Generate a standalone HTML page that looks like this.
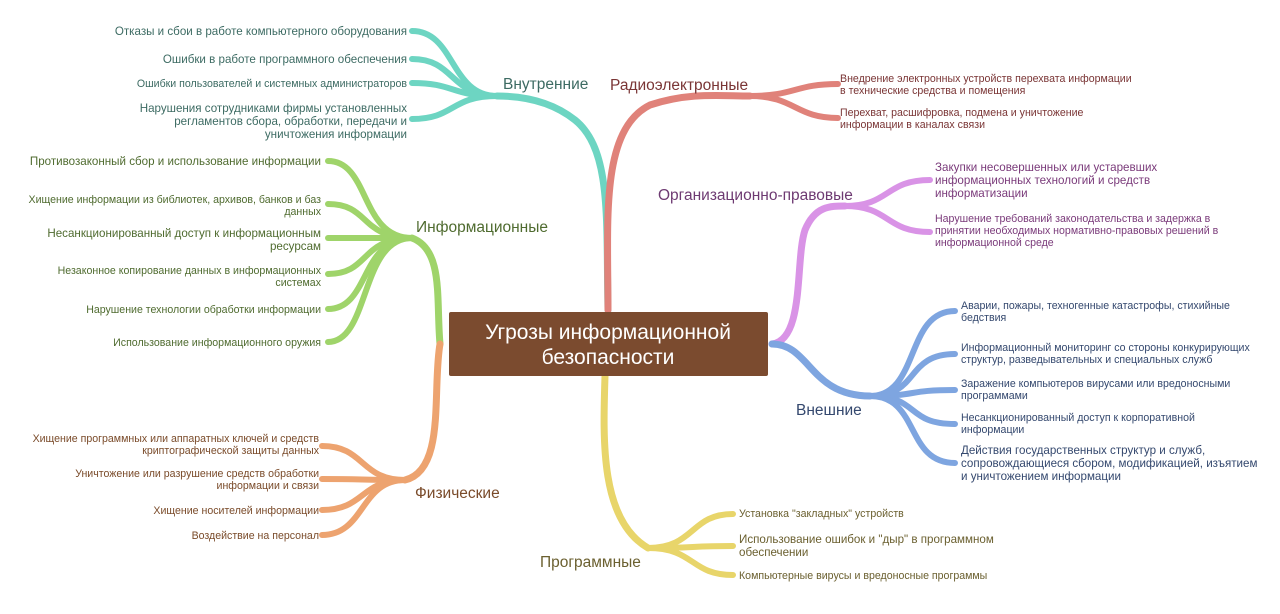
<!DOCTYPE html>
<html><head><meta charset="utf-8"><style>
body{margin:0;background:#fff;width:1280px;height:609px;overflow:hidden}
svg text{font-family:"Liberation Sans","Noto Sans CJK SC",sans-serif}
</style></head><body>
<svg width="1280" height="609" viewBox="0 0 1280 609" xmlns="http://www.w3.org/2000/svg" fill="none" stroke-linecap="round">
<path d="M608 310 C606 220 612 150 575 120 C550 100 520 96 497 96" stroke="#6dd5c2" stroke-width="7"/>
<path d="M608 310 C608 220 600 130 650 105 C690 92 720 96 750 96" stroke="#e0827a" stroke-width="7"/>
<path d="M440 344 C436 300 444 250 412 238" stroke="#9fd46a" stroke-width="7"/>
<path d="M440 344 C432 390 446 470 405 480" stroke="#eda36f" stroke-width="7"/>
<path d="M605 376 C603 440 600 520 648 548" stroke="#e8d56a" stroke-width="7"/>
<path d="M772 344 C805 340 795 260 805 230 C815 206 830 206 845 206" stroke="#d993e6" stroke-width="7"/>
<path d="M772 344 C810 344 810 396 870 396" stroke="#7ea5e0" stroke-width="7"/>
<g stroke="#6dd5c2" stroke-width="6">
<path d="M497 96 C450 96 455 31 412 31"/>
<path d="M497 96 C450 96 455 59 412 59"/>
<path d="M497 96 C450 96 455 83 412 83"/>
<path d="M497 96 C450 96 455 119 412 119"/>
</g>
<g stroke="#e0827a" stroke-width="6">
<path d="M750 96 C795 96 795 84 838 84"/>
<path d="M750 96 C795 96 795 118 838 118"/>
</g>
<g stroke="#9fd46a" stroke-width="6">
<path d="M412 238 C360 238 370 161 328 161"/>
<path d="M412 238 C360 238 370 204 328 204"/>
<path d="M412 238 C360 238 370 238 328 238"/>
<path d="M412 238 C360 238 370 274 328 274"/>
<path d="M412 238 C360 238 370 309 328 309"/>
<path d="M412 238 C360 238 370 342 328 342"/>
</g>
<g stroke="#eda36f" stroke-width="6">
<path d="M405 480 C360 480 365 446 322 446"/>
<path d="M405 480 C360 480 365 479 322 479"/>
<path d="M405 480 C360 480 365 510 322 510"/>
<path d="M405 480 C360 480 365 535 322 535"/>
</g>
<g stroke="#e8d56a" stroke-width="6">
<path d="M648 548 C695 548 690 514 733 514"/>
<path d="M648 548 C695 548 690 546 733 546"/>
<path d="M648 548 C695 548 690 575 733 575"/>
</g>
<g stroke="#d993e6" stroke-width="6">
<path d="M845 206 C890 206 885 180 930 180"/>
<path d="M845 206 C890 206 885 232 930 232"/>
</g>
<g stroke="#7ea5e0" stroke-width="6">
<path d="M870 396 C920 396 905 311 955 311"/>
<path d="M870 396 C920 396 905 354 955 354"/>
<path d="M870 396 C920 396 905 390 955 390"/>
<path d="M870 396 C920 396 905 424 955 424"/>
<path d="M870 396 C920 396 905 463 955 463"/>
</g>
<rect x="449" y="312" width="319" height="64" rx="2" fill="#7b4b2f"/>
<text x="608" y="339" font-size="21" fill="#fff" text-anchor="middle">Угрозы информационной</text>
<text x="608" y="364" font-size="21" fill="#fff" text-anchor="middle">безопасности</text>
<g font-size="15.5">
<text x="503" y="89" fill="#3d6b63">Внутренние</text>
<text x="610" y="90" fill="#7a3535">Радиоэлектронные</text>
<text x="416" y="232" fill="#4f6b2f">Информационные</text>
<text x="415" y="498" fill="#7a4b2a">Физические</text>
<text x="540" y="567" fill="#6b6030">Программные</text>
<text x="658" y="200" fill="#6e3a72">Организационно-правовые</text>
<text x="796" y="415" fill="#34486e">Внешние</text>
</g>
<g fill="#3d6b63" text-anchor="end">
<text x="407" y="35" font-size="11.6">Отказы и сбои в работе компьютерного оборудования</text>
<text x="407" y="63" font-size="11.6">Ошибки в работе программного обеспечения</text>
<text x="407" y="87" font-size="10.6">Ошибки пользователей и системных администраторов</text>
<text x="407" y="112" font-size="11.6">Нарушения сотрудниками фирмы установленных</text>
<text x="407" y="125" font-size="11.6">регламентов сбора, обработки, передачи и</text>
<text x="407" y="138" font-size="11.6">уничтожения информации</text>
</g>
<g fill="#4f6b2f" text-anchor="end">
<text x="321" y="165" font-size="11.6">Противозаконный сбор и использование информации</text>
<text x="321" y="203" font-size="10.6">Хищение информации из библиотек, архивов, банков и баз</text>
<text x="321" y="215" font-size="10.6">данных</text>
<text x="321" y="237" font-size="11.6">Несанкционированный доступ к информационным</text>
<text x="321" y="250" font-size="11.6">ресурсам</text>
<text x="321" y="274" font-size="10.6">Незаконное копирование данных в информационных</text>
<text x="321" y="286" font-size="10.6">системах</text>
<text x="321" y="313" font-size="10.6">Нарушение технологии обработки информации</text>
<text x="321" y="346" font-size="10.6">Использование информационного оружия</text>
</g>
<g fill="#7a4b2a" text-anchor="end" font-size="10.6">
<text x="319" y="442">Хищение программных или аппаратных ключей и средств</text>
<text x="319" y="454">криптографической защиты данных</text>
<text x="319" y="477">Уничтожение или разрушение средств обработки</text>
<text x="319" y="489">информации и связи</text>
<text x="319" y="514">Хищение носителей информации</text>
<text x="319" y="539">Воздействие на персонал</text>
</g>
<g fill="#6b6030" font-size="10.6">
<text x="739" y="517">Установка "закладных" устройств</text>
<text x="739" y="543" font-size="11.6">Использование ошибок и "дыр" в программном</text>
<text x="739" y="556" font-size="11.6">обеспечении</text>
<text x="739" y="579">Компьютерные вирусы и вредоносные программы</text>
</g>
<g fill="#7a3535" font-size="10.6">
<text x="840" y="82">Внедрение электронных устройств перехвата информации</text>
<text x="840" y="94">в технические средства и помещения</text>
<text x="840" y="116">Перехват, расшифровка, подмена и уничтожение</text>
<text x="840" y="128">информации в каналах связи</text>
</g>
<g fill="#7a3a7a" font-size="11.6">
<text x="935" y="171">Закупки несовершенных или устаревших</text>
<text x="935" y="184">информационных технологий и средств</text>
<text x="935" y="197">информатизации</text>
<text x="935" y="222" font-size="10.6">Нарушение требований законодательства и задержка в</text>
<text x="935" y="234" font-size="10.6">принятии необходимых нормативно-правовых решений в</text>
<text x="935" y="246" font-size="10.6">информационной среде</text>
</g>
<g fill="#34486e" font-size="10.6">
<text x="961" y="309">Аварии, пожары, техногенные катастрофы, стихийные</text>
<text x="961" y="321">бедствия</text>
<text x="961" y="351">Информационный мониторинг со стороны конкурирующих</text>
<text x="961" y="363">структур, разведывательных и специальных служб</text>
<text x="961" y="387">Заражение компьютеров вирусами или вредоносными</text>
<text x="961" y="399">программами</text>
<text x="961" y="421">Несанкционированный доступ к корпоративной</text>
<text x="961" y="433">информации</text>
<text x="961" y="454" font-size="11.6">Действия государственных структур и служб,</text>
<text x="961" y="467" font-size="11.6">сопровождающиеся сбором, модификацией, изъятием</text>
<text x="961" y="480" font-size="11.6">и уничтожением информации</text>
</g>
</svg>
</body></html>
